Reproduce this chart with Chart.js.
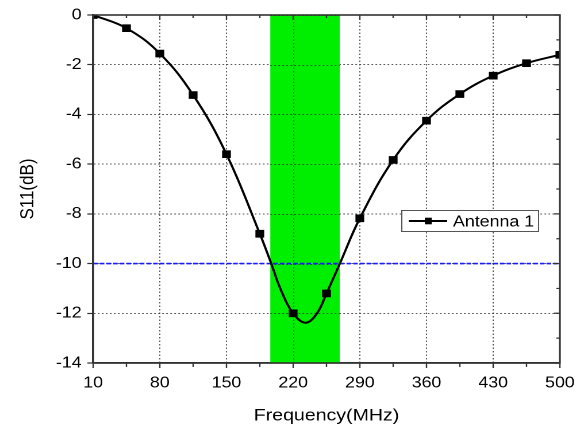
<!DOCTYPE html>
<html>
<head>
<meta charset="utf-8">
<script src="https://cdn.jsdelivr.net/npm/chart.js@4/dist/chart.umd.min.js"></script>
<style>
  html, body { margin: 0; padding: 0; background: #ffffff; }
  #wrap { width: 584px; height: 428px; overflow: hidden; }
  /* the plot is laid out on a 508px-wide canvas and widened to the page width */
  #c { display: block; width: 508px; height: 428px; transform: scaleX(1.1496); transform-origin: 0 0; }
</style>
</head>
<body>
<div id="wrap"><canvas id="c" width="508" height="428"></canvas></div>
<script>
// Measured S11 of Antenna 1 (marked samples)
const freqMHz = [10, 45, 80, 115, 150, 185, 220, 255, 290, 325, 360, 395, 430, 465, 500];
const s11dB   = [0, -0.53, -1.55, -3.22, -5.6, -8.8, -12.0, -11.2, -8.18, -5.83, -4.25, -3.18, -2.44, -1.94, -1.6];
const seriesName = 'Antenna 1';

// Additional sweep samples around the resonance (drawn as the line only)
const sweepFreqMHz = [197, 207, 233, 245, 269];
const sweepS11dB   = [-10.0, -11.05, -12.38, -12.0, -10.0];

// Operating band and return-loss threshold
const bandMHz = [196, 269];
const thresholdDB = -10;

// Axis ticks
const xTicks = [10, 80, 150, 220, 290, 360, 430, 500];
const xMinorTicks = [45, 115, 185, 255, 325, 395, 465];
const yTicks = [0, -2, -4, -6, -8, -10, -12, -14];
const yMinorTicks = [-1, -3, -5, -7, -9, -11, -13];

const FONT = 'Liberation Sans, Arial, sans-serif';
const AXIS = '#333333';
const GRID = 'rgba(60,60,60,0.85)';

// full sweep line = marked samples + resonance samples, sorted by frequency
const sweep = freqMHz.map((f, i) => ({ x: f, y: s11dB[i] }))
  .concat(sweepFreqMHz.map((f, i) => ({ x: f, y: sweepS11dB[i] })))
  .sort((a, b) => a.x - b.x);

const bandPlugin = {
  id: 'band',
  beforeDatasetsDraw(chart) {
    const { ctx, chartArea, scales } = chart;
    const x0 = scales.x.getPixelForValue(bandMHz[0]);
    const x1 = scales.x.getPixelForValue(bandMHz[1]);
    ctx.save();
    ctx.fillStyle = '#00ee00';
    ctx.fillRect(x0, chartArea.top, x1 - x0, chartArea.bottom - chartArea.top);
    // grid lines stay visible through the band
    ctx.strokeStyle = GRID;
    ctx.lineWidth = 1;
    ctx.setLineDash([1.5, 2]);
    ctx.beginPath();
    xTicks.forEach(v => {
      const px = Math.round(scales.x.getPixelForValue(v)) + 0.5;
      if (px > x0 && px < x1) { ctx.moveTo(px, chartArea.top); ctx.lineTo(px, chartArea.bottom); }
    });
    yTicks.forEach(v => {
      const py = Math.round(scales.y.getPixelForValue(v)) + 0.5;
      if (py > chartArea.top && py < chartArea.bottom) { ctx.moveTo(x0, py); ctx.lineTo(x1, py); }
    });
    ctx.stroke();
    ctx.restore();
  }
};

const framePlugin = {
  id: 'frame',
  afterDraw(chart) {
    const { ctx, chartArea: a, scales } = chart;
    ctx.save();
    ctx.strokeStyle = AXIS;
    ctx.lineWidth = 1.6;
    ctx.setLineDash([]);
    ctx.strokeRect(a.left, a.top, a.right - a.left, a.bottom - a.top);
    ctx.lineWidth = 1.2;
    ctx.beginPath();
    // top axis: inward ticks
    xTicks.forEach(v => { const p = scales.x.getPixelForValue(v); ctx.moveTo(p, a.top); ctx.lineTo(p, a.top + 5); });
    xMinorTicks.forEach(v => { const p = scales.x.getPixelForValue(v); ctx.moveTo(p, a.top); ctx.lineTo(p, a.top + 3); });
    // bottom axis: minor ticks outward
    xMinorTicks.forEach(v => { const p = scales.x.getPixelForValue(v); ctx.moveTo(p, a.bottom); ctx.lineTo(p, a.bottom + 4); });
    // right axis: inward ticks
    yTicks.forEach(v => { const p = scales.y.getPixelForValue(v); ctx.moveTo(a.right, p); ctx.lineTo(a.right - 5, p); });
    yMinorTicks.forEach(v => { const p = scales.y.getPixelForValue(v); ctx.moveTo(a.right, p); ctx.lineTo(a.right - 3, p); });
    ctx.stroke();

    // legend box
    const bx = 349.5, by = 210, bw = 119, bh = 21;
    ctx.fillStyle = '#ffffff';
    ctx.fillRect(bx, by, bw, bh);
    ctx.strokeStyle = '#555555';
    ctx.lineWidth = 1;
    ctx.strokeRect(bx, by + 0.5, bw, bh);
    const cy = by + bh / 2 + 0.5;
    ctx.strokeStyle = '#000000';
    ctx.lineWidth = 2;
    ctx.beginPath();
    ctx.moveTo(355.5, cy); ctx.lineTo(389, cy);
    ctx.stroke();
    ctx.fillStyle = '#000000';
    ctx.fillRect(369.5, cy - 3.3, 6, 6.6);
    ctx.font = '15.5px ' + FONT;
    ctx.textBaseline = 'middle';
    ctx.textAlign = 'left';
    ctx.fillText(seriesName, 394, cy + 1);
    ctx.restore();
  }
};

new Chart(document.getElementById('c'), {
  type: 'scatter',
  data: {
    datasets: [
      {
        label: seriesName,
        data: freqMHz.map((f, i) => ({ x: f, y: s11dB[i] })),
        showLine: false,
        borderColor: '#000000',
        backgroundColor: '#000000',
        pointStyle: 'rect',
        pointRadius: 4.7,
        pointHoverRadius: 4.7,
        order: 0
      },
      {
        label: seriesName + ' sweep',
        data: sweep,
        showLine: true,
        borderColor: '#000000',
        borderWidth: 2,
        tension: 0.4,
        pointRadius: 0,
        order: 1
      },
      {
        label: '-10 dB',
        data: [{ x: 10, y: thresholdDB }, { x: 500, y: thresholdDB }],
        showLine: true,
        borderColor: '#1a1aff',
        borderWidth: 1.6,
        borderDash: [4, 1.8],
        pointRadius: 0,
        order: 2
      }
    ]
  },
  options: {
    responsive: false,
    devicePixelRatio: 2,
    animation: false,
    events: [],
    layout: { padding: { left: 0, top: 15, right: 21, bottom: 0 } },
    plugins: { legend: { display: false }, tooltip: { enabled: false } },
    scales: {
      x: {
        type: 'linear',
        min: 10, max: 500,
        afterBuildTicks: s => { s.ticks = xTicks.map(v => ({ value: v })); },
        afterFit: s => { s.height = 65; },
        ticks: { color: '#000', font: { family: FONT, size: 15.5 }, padding: 6, maxRotation: 0 },
        grid: { color: GRID, lineWidth: 1, drawTicks: true, tickLength: 5, tickColor: AXIS, tickWidth: 1.2 },
        border: { display: true, color: AXIS, width: 1.6, dash: [1.5, 2] },
        title: { display: true, text: 'Frequency(MHz)', color: '#000', font: { family: FONT, size: 17 }, padding: { top: 4, bottom: 2 } }
      },
      y: {
        type: 'linear',
        min: -14, max: 0,
        afterBuildTicks: s => { s.ticks = yTicks.map(v => ({ value: v })); },
        afterFit: s => { s.width = 81; },
        ticks: { color: '#000', font: { family: FONT, size: 15.5 }, padding: 5 },
        grid: { color: GRID, lineWidth: 1, drawTicks: true, tickLength: 5, tickColor: AXIS, tickWidth: 1.2 },
        border: { display: true, color: AXIS, width: 1.6, dash: [1.5, 2] },
        title: { display: true, text: 'S11(dB)', color: '#000', font: { family: FONT, size: 17 }, padding: { top: 14, bottom: 0 } }
      }
    }
  },
  plugins: [bandPlugin, framePlugin]
});
</script>
</body>
</html>
